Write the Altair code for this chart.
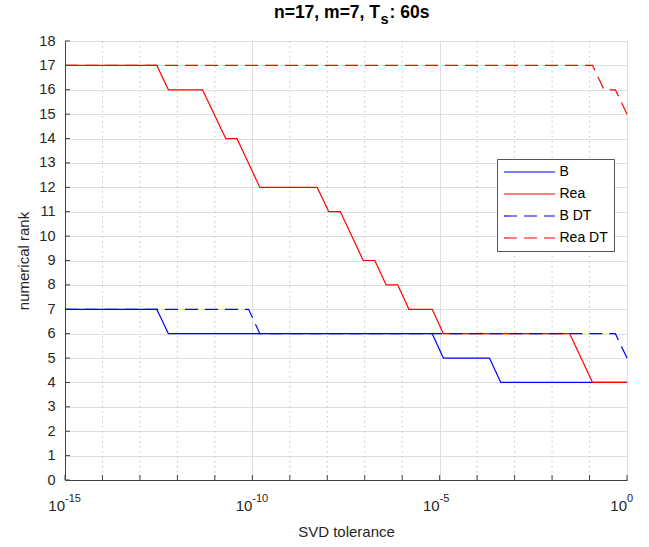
import altair as alt
import pandas as pd

# ---- data (x as log10 of SVD tolerance) ----
series_names = ["B", "Rea", "B DT", "Rea DT"]
series_colors = ["#0000ff", "#ff0000", "#0000ff", "#ff0000"]

b_exp = [-15, -12.55, -12.24, -5.20, -4.90, -3.67, -3.37, 0]
b_rank = [7, 7, 6, 6, 5, 5, 4, 4]

rea_exp = [-15, -12.55, -12.24, -11.33, -10.71, -10.41, -9.80, -8.27, -7.96,
           -7.65, -7.04, -6.73, -6.43, -6.12, -5.82, -5.20, -4.90, -1.53, -0.92, 0]
rea_rank = [17, 17, 16, 16, 14, 14, 12, 12, 11, 11, 9, 9, 8, 8, 7, 7, 6, 6, 4, 4]

bdt_exp = [-15, -10.10, -9.80, -0.31, 0]
bdt_rank = [7, 7, 6, 6, 5]

readt_exp = [-15, -0.92, -0.61, -0.31, 0]
readt_rank = [17, 17, 16, 16, 15]

major_exps = [-15, -10, -5, 0]
major_labels = ["-15", "-10", "-5", "0"]
all_decades = list(range(-15, 1))
y_ticks = list(range(0, 19))

title_main = "n=17, m=7, T"
title_sub = "s"
title_tail = ": 60s"

W, H = 562, 439
FONT = "Liberation Sans"
TXT = "#262626"

rows = []
for name, ex, rk in [("B", b_exp, b_rank), ("Rea", rea_exp, rea_rank),
                     ("B DT", bdt_exp, bdt_rank), ("Rea DT", readt_exp, readt_rank)]:
    for i, (e, r) in enumerate(zip(ex, rk)):
        rows.append({"series": name, "x": 10.0 ** e, "y": r, "i": i})
df = pd.DataFrame(rows)

df_major = pd.DataFrame({"x": [10.0 ** e for e in major_exps], "exp": major_labels, "base": ["10"] * 4})
df_minor = pd.DataFrame({"x": [10.0 ** e for e in all_decades if e not in major_exps]})
df_dec = pd.DataFrame({"x": [10.0 ** e for e in all_decades]})
df_yt = pd.DataFrame({"y": y_ticks})
df_title = pd.DataFrame({"main": [title_main], "sub": [title_sub], "tail": [title_tail]})

xscale = alt.Scale(type="log", domain=[1e-15, 1], nice=False)
yscale = alt.Scale(domain=[0, 18], nice=False, zero=False)

xaxis = alt.Axis(values=[10.0 ** e for e in major_exps], labels=False, ticks=False, tickSize=0,
                 grid=True, gridColor="#dedede", gridWidth=1,
                 domainColor="#404040", domainWidth=1,
                 title="SVD tolerance", titleFont=FONT, titleFontSize=15, titleFontWeight="normal",
                 titleColor=TXT, titleY=51, titleBaseline="middle")
yaxis = alt.Axis(values=y_ticks, ticks=False, tickSize=0, labelPadding=10,
                 labelFont=FONT, labelFontSize=14.5, labelColor=TXT,
                 grid=True, gridColor="#dedede", gridWidth=1,
                 domainColor="#404040", domainWidth=1,
                 title="numerical rank", titleFont=FONT, titleFontSize=15, titleFontWeight="normal",
                 titleColor=TXT, titleX=-42, titleY=H / 2, titleAngle=270,
                 titleAlign="center", titleBaseline="middle")

X = alt.X("x:Q", scale=xscale, axis=xaxis)
Y = alt.Y("y:Q", scale=yscale, axis=yaxis)

legend = alt.Legend(orient="none", legendX=432, legendY=118, title=None,
                    symbolType="M-5,0H5", symbolSize=104, symbolStrokeWidth=1.2,
                    symbolStrokeColor="#000000", symbolFillColor="transparent",
                    symbolOffset=19.5, labelOffset=23,
                    labelFont=FONT, labelFontSize=14, labelColor="#000000",
                    padding=6, rowPadding=8, fillColor="white", strokeColor="#555555")

cscale = alt.Scale(domain=series_names, range=series_colors)
dscale = alt.Scale(domain=series_names, range=[[1, 0], [1, 0], [13, 7], [13, 7]])

minor_grid = alt.Chart(df_minor).mark_rule(color="#c4c4c4", strokeWidth=1, strokeDash=[1.5, 3.5]).encode(
    x=X, y=alt.value(0), y2=alt.value(H))
x_ticks = alt.Chart(df_dec).mark_rule(color="#404040", strokeWidth=1).encode(
    x=X, y=alt.value(H), y2=alt.value(H - 5))
y_tick_marks = alt.Chart(df_yt).mark_rule(color="#404040", strokeWidth=1).encode(
    y=Y, x=alt.value(0), x2=alt.value(5))

lines = []
for name in series_names:
    lines.append(
        alt.Chart(df).transform_filter(alt.datum.series == name)
        .mark_line(strokeWidth=1.2)
        .encode(x=X, y=Y,
                color=alt.Color("series:N", scale=cscale, legend=legend),
                strokeDash=alt.StrokeDash("series:N", scale=dscale, legend=legend),
                order="i:Q")
    )

lab_base = alt.Chart(df_major).mark_text(align="right", baseline="middle", font=FONT,
                                          fontSize=15, color=TXT).encode(
    x=X, y=alt.value(H + 26), text="base:N")
lab_exp = alt.Chart(df_major).mark_text(align="left", baseline="middle", font=FONT,
                                         fontSize=11, color=TXT).encode(
    x=X, y=alt.value(H + 19), text="exp:N")

# title in three pieces so that the "s" can be a real subscript
t_main = alt.Chart(df_title).mark_text(align="right", baseline="middle", font=FONT, fontSize=17.5,
                                       fontWeight="bold", color="#000000").encode(
    x=alt.value(315), y=alt.value(-28), text="main:N")
t_sub = alt.Chart(df_title).mark_text(align="left", baseline="middle", font=FONT, fontSize=14.5,
                                      fontWeight="bold", color="#000000").encode(
    x=alt.value(315.5), y=alt.value(-21.5), text="sub:N")
t_tail = alt.Chart(df_title).mark_text(align="left", baseline="middle", font=FONT, fontSize=17.5,
                                       fontWeight="bold", color="#000000").encode(
    x=alt.value(324.5), y=alt.value(-28), text="tail:N")

chart = alt.layer(minor_grid, x_ticks, y_tick_marks, *lines, lab_base, lab_exp,
                  t_main, t_sub, t_tail).properties(
    width=W, height=H,
    autosize=alt.AutoSizeParams(type="none"),
    padding={"left": 65, "top": 41, "right": 22, "bottom": 67},
).configure_view(stroke=None).configure(background="white")

chart.save("out.html", embed_options={"renderer": "svg", "actions": False})
